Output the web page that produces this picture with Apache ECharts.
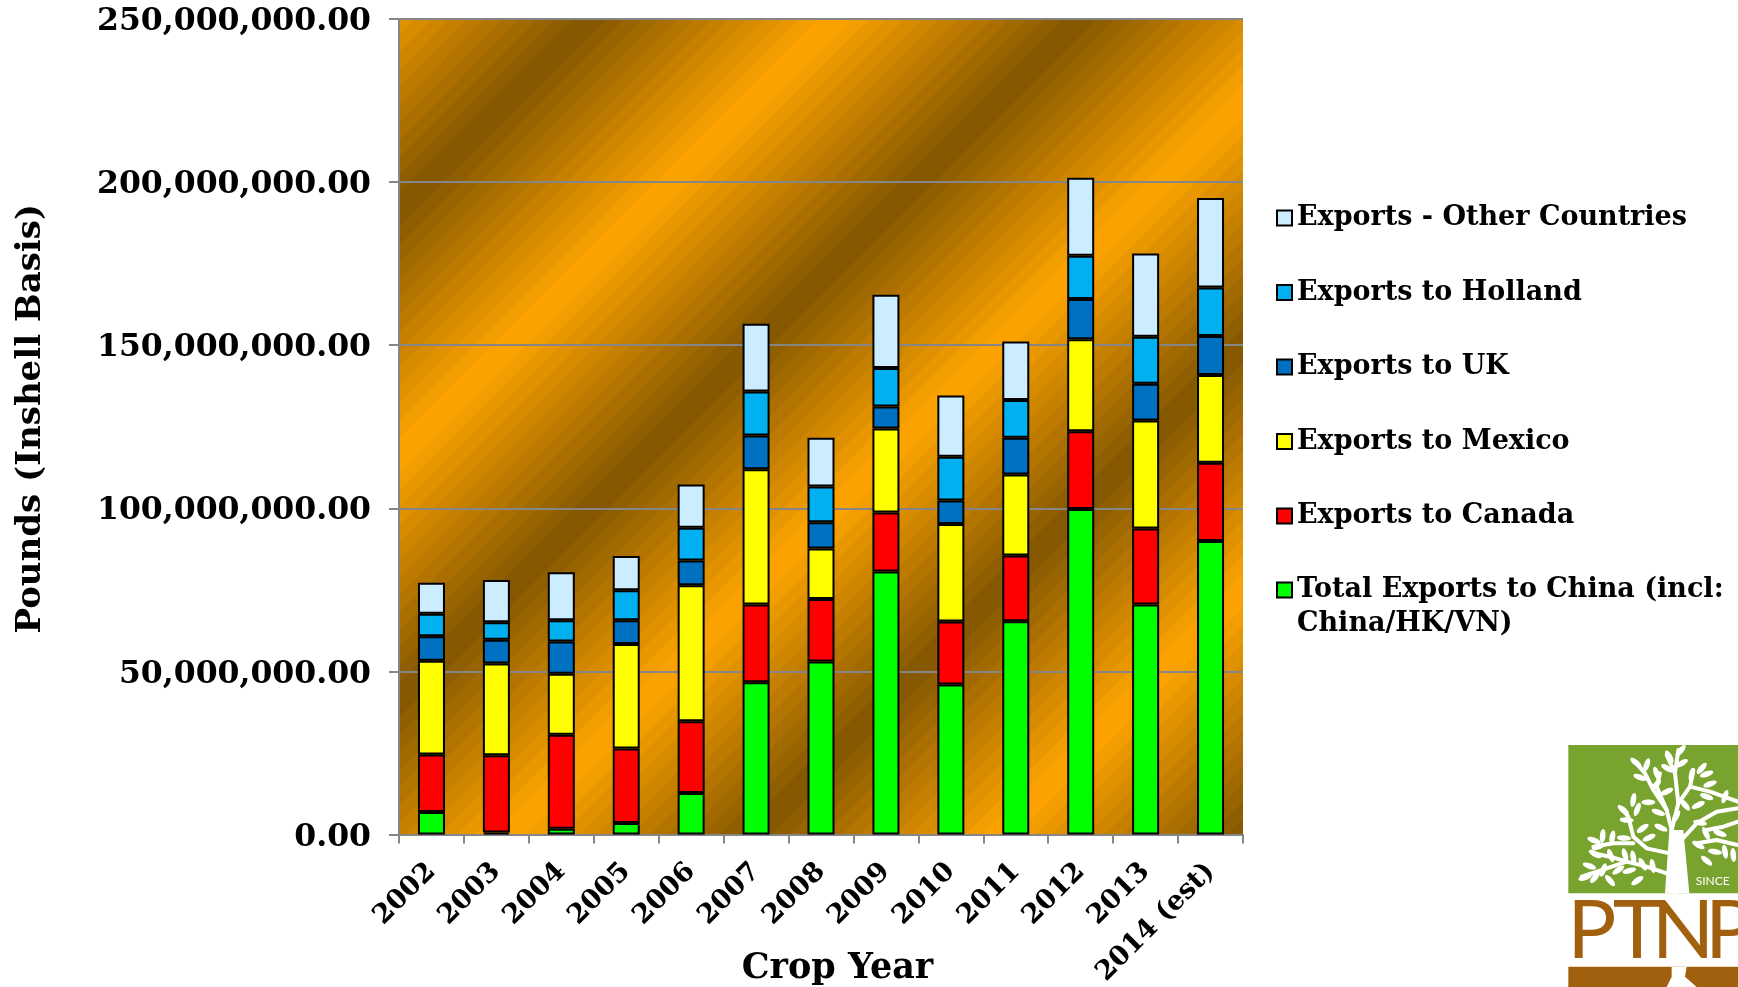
<!DOCTYPE html>
<html><head><meta charset="utf-8">
<style>html,body{margin:0;padding:0;background:#fff}#c{width:1738px;height:987px}</style>
<script src="https://cdn.jsdelivr.net/npm/echarts@6/dist/echarts.min.js"></script>
</head><body><div id="c"></div>
<script>
const categories = ['2002','2003','2004','2005','2006','2007','2008','2009','2010','2011','2012','2013','2014 (est)'];
const china   = [ 6900000,  600000, 1800000, 3500000,12700000,46700000,53000000,80600000,46000000,65400000,99800000,70500000,90000000];
const canada  = [17600000,23700000,28800000,22900000,22000000,23800000,19200000,18100000,19300000,20100000,23800000,23300000,24000000];
const mexico  = [28800000,28100000,18700000,32000000,41700000,41500000,15500000,25800000,29900000,24900000,28200000,33100000,26900000];
const uk      = [ 7500000, 7300000, 9900000, 7300000, 7600000,10300000, 8000000, 6700000, 7200000,11200000,12400000,11300000,11900000];
const holland = [ 6900000, 5400000, 6500000, 9200000,10000000,13500000,11000000,11800000,13400000,11600000,13200000,14400000,14900000];
const other   = [ 9500000,12900000,14700000,10500000,13300000,20800000,14900000,22500000,18800000,17900000,23900000,25500000,27400000];
const seriesNames = ['Total Exports to China (incl: China/HK/VN)','Exports to Canada','Exports to Mexico','Exports to UK','Exports to Holland','Exports - Other Countries'];
const seriesColors = ['#00FF00','#FF0000','#FFFF00','#0070C0','#00B0F0','#CCECFF'];
const seriesValues = [china,canada,mexico,uk,holland,other];

const FONT = '"DejaVu Serif"';

// diagonal banded plot backdrop
function bandStops(){
  const orange=[255,165,0], dark=[130,86,0];
  const p0=418, p1=2077, half=245, steps=14, firstDark=609;
  const col=p=>{
    let d=((p-firstDark)%(2*half)+2*half)%(2*half);
    let t=d<=half?d/half:(2*half-d)/half;
    return 'rgb('+orange.map((o,i)=>Math.round(dark[i]+(o-dark[i])*t)).join(',')+')';
  };
  const w=half/steps, out=[];
  let p=p0;
  while(p<p1){
    const q=Math.min(p1,(Math.floor((p-firstDark)/w+1e-6)+1)*w+firstDark);
    const c=col((p+q)/2);
    out.push({offset:(p-p0)/(p1-p0),color:c},{offset:(q-p0)/(p1-p0),color:c});
    p=q;
  }
  return out;
}

// logo (zoom-space helper)
const lx=x=>1550+x/3, ly=y=>730+y/3;
const WHITE='#fff', GREEN='#78A32F', BROWN='#A1600E';
const branches=[
 [[375,490],[372,380],[365,300],[350,240],[310,180],[285,130],[255,95]],
 [[350,240],[320,170],[330,130]],
 [[365,300],[385,220],[375,130],[385,60]],
 [[375,130],[350,75]],
 [[385,220],[420,170],[430,120]],
 [[420,170],[480,185],[564,215]],
 [[385,340],[440,280],[500,245],[564,235]],
 [[440,340],[500,330],[564,345]],
 [[470,300],[520,290],[564,275]],
 [[350,430],[290,410],[230,395],[170,415],[95,440]],
 [[230,395],[180,380],[130,370]],
 [[360,370],[290,355],[250,320],[235,260],[215,235]],
 [[250,340],[190,340],[130,350]]
];
const leaves=[[392,62,-50],[358,80,60],[395,100,-30],[352,115,30],[258,98,40],[290,105,-70],[270,142,20],[320,130,70],[350,185,-25],[318,165,-50],[425,135,-80],[455,115,-50],[470,132,-20],[480,162,-20],[470,200,20],[525,200,-70],[445,225,-25],[405,225,50],[295,217,0],[325,247,20],[378,260,-60],[220,240,40],[250,210,-80],[262,238,-70],[230,270,5],[278,295,-35],[297,323,-25],[333,293,25],[450,278,10],[468,310,65],[445,345,30],[470,392,40],[495,365,10],[525,365,80],[550,375,85],[158,318,-85],[187,322,-80],[222,324,5],[132,331,20],[145,350,-20],[135,372,30],[182,377,70],[225,375,75],[250,382,80],[278,403,60],[308,408,80],[118,408,20],[105,442,-20],[135,442,-50],[160,420,-70],[205,420,-35],[238,422,-15],[262,452,-35],[180,452,50],[510,310,20]];
const clipLogo=[];
branches.forEach(b=>clipLogo.push({type:'polyline',z:5,shape:{points:b.map(p=>[lx(p[0]),ly(p[1])])},style:{stroke:WHITE,lineWidth:4,fill:null,lineCap:'round',lineJoin:'round'}}));
leaves.forEach(l=>clipLogo.push({type:'ellipse',z:6,x:lx(l[0]),y:ly(l[1]),rotation:-l[2]*Math.PI/180,shape:{cx:0,cy:0,rx:7,ry:2.8},style:{fill:WHITE}}));
const logoLetters=[['P',52],['T',188],['N',305],['P',465]];
const logo=[
 {type:'rect',z:4,shape:{x:lx(55),y:ly(45),width:175,height:ly(490)-ly(45)},style:{fill:GREEN}},
 {type:'polygon',z:5,shape:{points:[[lx(345),ly(490)],[lx(358),ly(300)],[lx(400),ly(300)],[lx(418),ly(490)]]},style:{fill:WHITE}},
 ...clipLogo,
 {type:'text',z:6,style:{x:lx(437),y:ly(453),text:'SINCE',font:'normal 12px Lato',fill:'#fff',verticalAlign:'middle'}},
 ...logoLetters.map(l=>({type:'text',z:6,style:{x:lx(l[1]),y:ly(605),text:l[0],font:'normal 82px Lato',fill:BROWN,verticalAlign:'middle'}})),
 {type:'rect',z:4,shape:{x:lx(55),y:ly(710),width:175,height:ly(771)-ly(710)},style:{fill:BROWN}},
 {type:'polygon',z:5,shape:{points:[[lx(365),ly(710)],[lx(410),ly(710)],[lx(405),ly(740)],[lx(440),ly(771)],[lx(350),ly(771)],[lx(365),ly(740)]]},style:{fill:'#fff'}}
];

const legendText={fontFamily:FONT,fontWeight:'bold',fontSize:27,color:'#000',lineHeight:34};
const chart=echarts.init(document.getElementById('c'),null,{renderer:'canvas'});
chart.setOption({
  animation:false,
  backgroundColor:'#fff',
  grid:{left:399,top:19,width:844,height:815.5,show:true,borderWidth:0,outerBoundsMode:'none',
    backgroundColor:{type:'linear',x:0,y:0,x2:0.983,y2:1.017,colorStops:bandStops()}},
  legend:[
   {orient:'vertical',left:1276,top:201,itemWidth:15,itemHeight:15,itemGap:40.5,icon:'rect',selectedMode:false,
    textStyle:legendText,padding:0,
    data:seriesNames.slice(1).reverse()},
   {orient:'vertical',left:1276,top:539,itemWidth:15,itemHeight:15,icon:'rect',selectedMode:false,padding:0,
    textStyle:legendText,
    formatter:()=>' \nTotal Exports to China (incl:\nChina/HK/VN)',
    data:[seriesNames[0]]}
  ],
  xAxis:{type:'category',data:categories,
    name:'Crop Year',nameLocation:'middle',nameGap:117,nameMoveOverlap:false,
    nameTextStyle:{fontFamily:FONT,fontWeight:'bold',fontSize:35,color:'#000',padding:[0,0,0,33]},
    axisLine:{lineStyle:{color:'#868686',width:2}},
    axisTick:{show:true,alignWithLabel:false,length:9,lineStyle:{color:'#868686',width:2}},
    axisLabel:{interval:0,rotate:45,margin:33,fontFamily:FONT,fontWeight:'bold',fontSize:27,color:'#000'}},
  yAxis:{type:'value',min:0,max:250000000,interval:50000000,
    name:'Pounds (Inshell Basis)',nameLocation:'middle',nameGap:351,nameRotate:90,nameMoveOverlap:false,
    nameTextStyle:{fontFamily:FONT,fontWeight:'bold',fontSize:34,color:'#000',padding:[0,0,0,16]},
    axisLine:{show:true,lineStyle:{color:'#868686',width:2}},
    axisTick:{show:true,length:10,lineStyle:{color:'#868686',width:2}},
    splitLine:{show:true,lineStyle:{color:'#868686',width:2}},
    axisLabel:{margin:28,fontFamily:FONT,fontWeight:'bold',fontSize:31.5,color:'#000',
      rich:{v:{fontFamily:FONT,fontWeight:'bold',fontSize:31.5,color:'#000',padding:[6,0,0,0]}},
      formatter:v=>'{v|'+v.toLocaleString('en-US',{minimumFractionDigits:2,maximumFractionDigits:2})+'}'}},
  series:seriesNames.map((n,i)=>({name:n,type:'bar',stack:'total',data:seriesValues[i],barWidth:27,
    itemStyle:{color:seriesColors[i],borderColor:'#000',borderWidth:2}})),
  graphic:logo
});
</script></body></html>
